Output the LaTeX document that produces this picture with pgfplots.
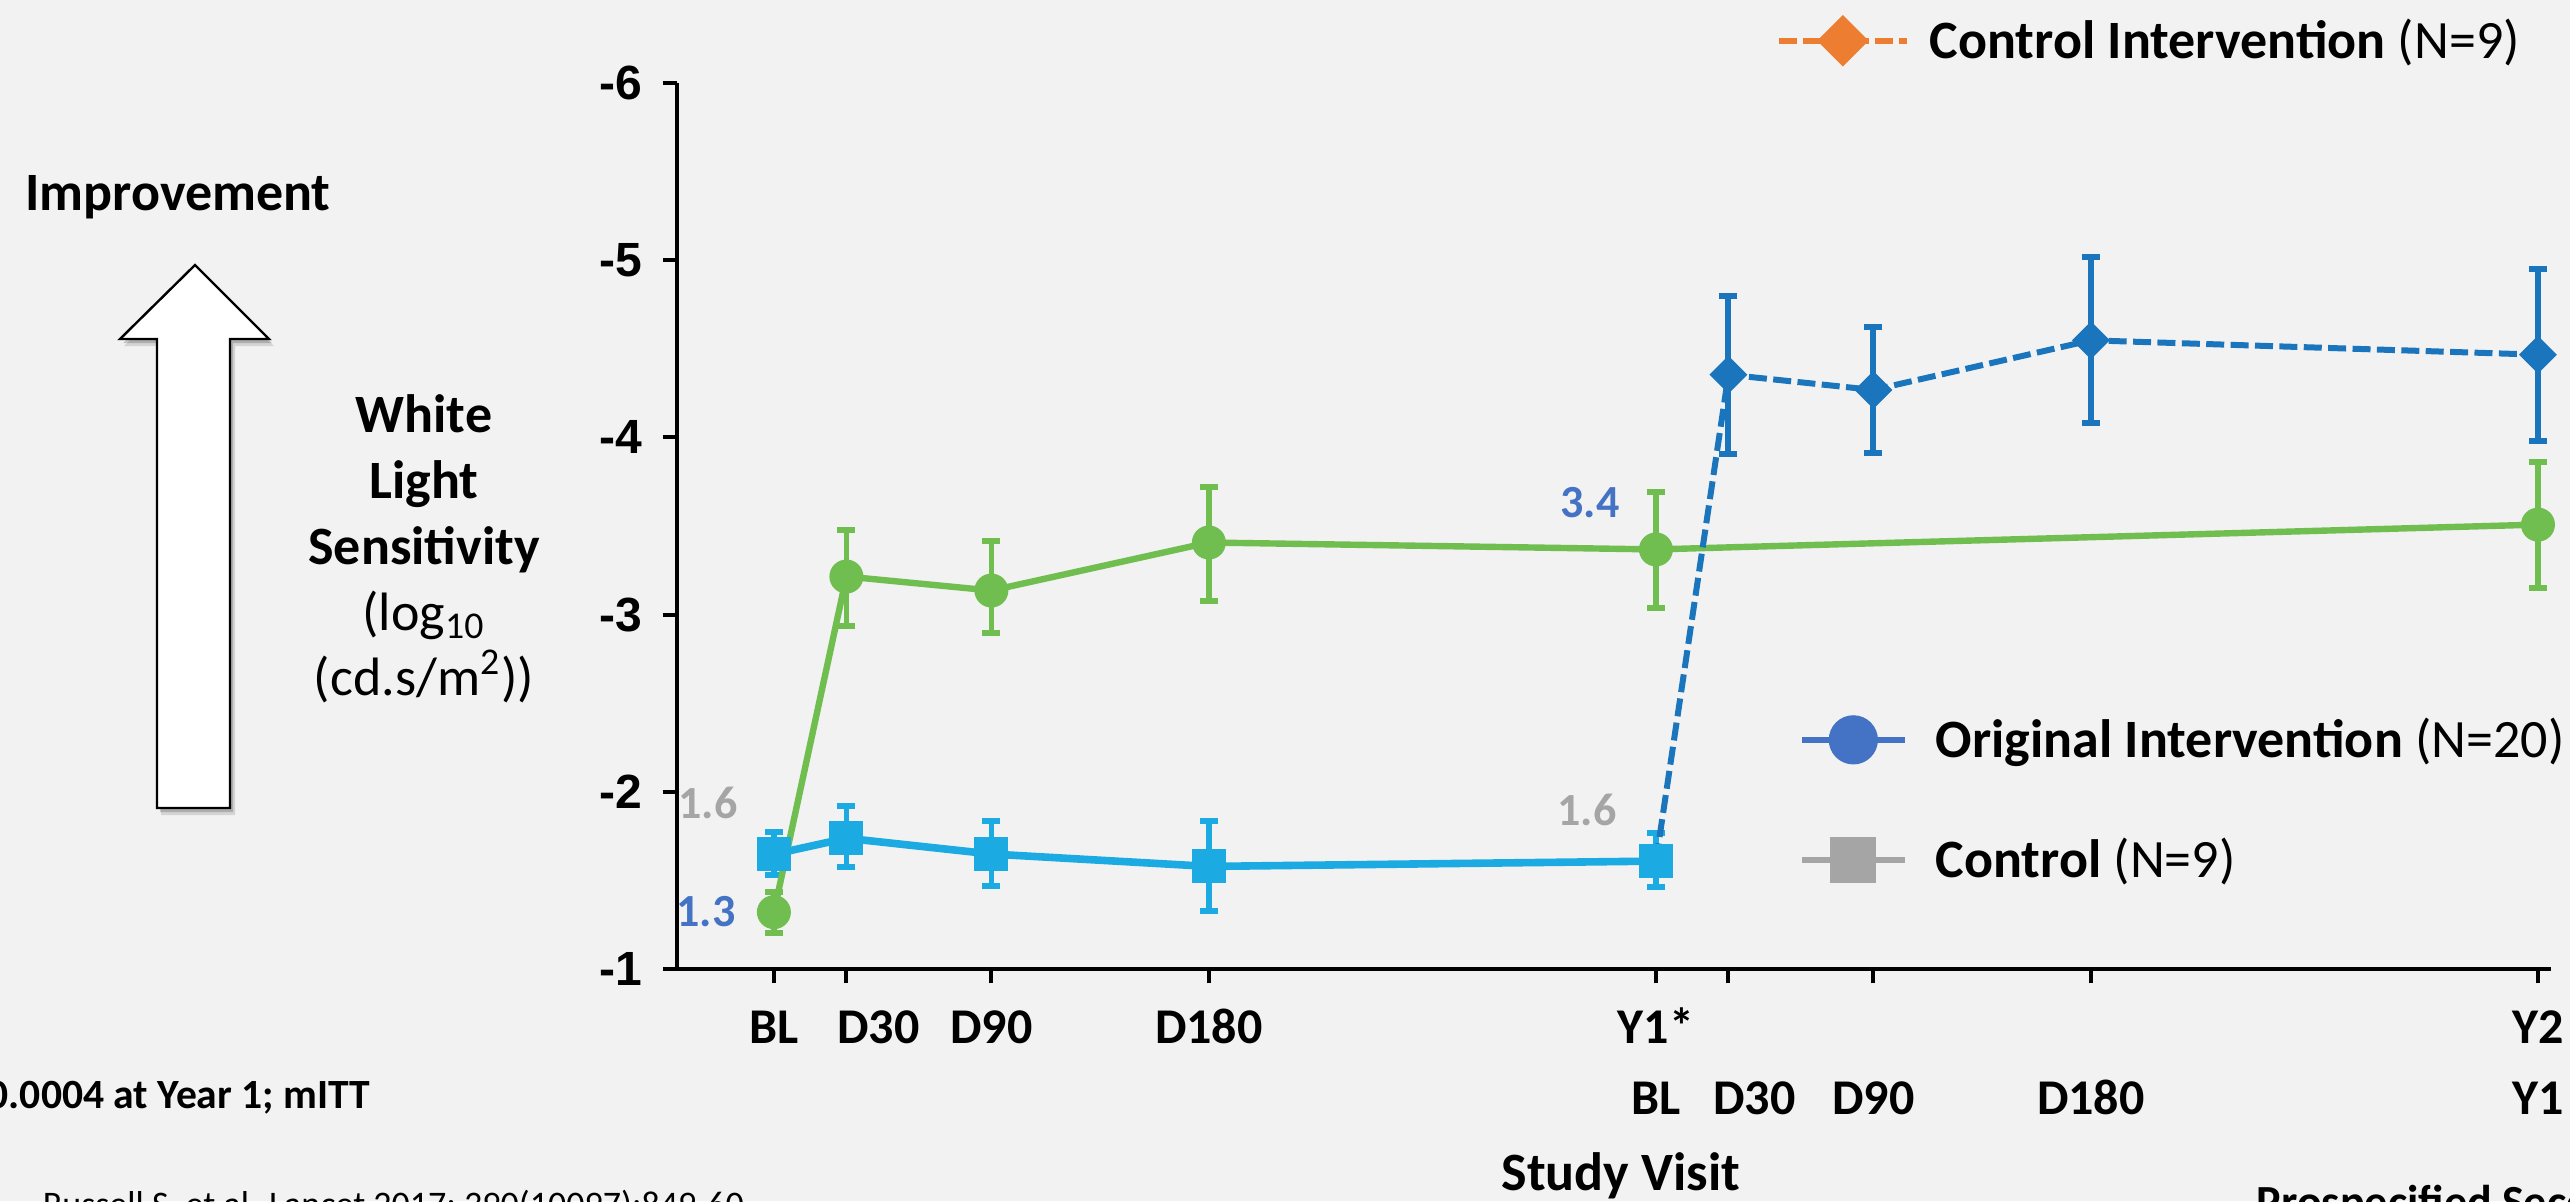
\documentclass[border=0pt]{standalone}
\usepackage{pgfplots}
\pgfplotsset{compat=1.18}
\usepackage{fontspec}
\setmainfont{Carlito}
\newfontfamily\arialfont{Liberation Sans}
\definecolor{bgc}{HTML}{F2F2F2}
\definecolor{cgreen}{RGB}{112,190,80}
\definecolor{clblue}{RGB}{27,170,225}
\definecolor{cdblue}{RGB}{27,117,188}
\definecolor{clegblue}{HTML}{4472C4}
\definecolor{cgray}{HTML}{A5A5A5}
\definecolor{corange}{HTML}{ED7D31}
\begin{document}
\begin{tikzpicture}
\path[fill=bgc, use as bounding box] (0pt,0pt) rectangle (642.5pt,-300.25pt);
\begin{scope}[x=0.25pt,y=-0.25pt, every node/.style={inner sep=0pt}]
  \fill[black, opacity=0.12] (161,815) -- (161,346) -- (124,346) -- (199,272) -- (274,346) -- (235,346) -- (235,815) -- cycle;
  \fill[black, opacity=0.18] (160,812) -- (160,343) -- (123,343) -- (198,269) -- (272,343) -- (233,343) -- (233,812) -- cycle;
  \draw[fill=white, line width=0.6pt] (157,808) -- (157,339) -- (120,339) -- (195,265) -- (269,339) -- (230,339) -- (230,808) -- cycle;
  \node[anchor=base, font=\fontsize{13.5}{16}\selectfont\bfseries] at (178,210) {Improvement};
  \node[anchor=base, font=\fontsize{13.5}{16}\selectfont\bfseries] at (424,432) {White};
  \node[anchor=base, font=\fontsize{13.5}{16}\selectfont\bfseries] at (424,498) {Light};
  \node[anchor=base, font=\fontsize{13.5}{16}\selectfont\bfseries] at (424,564) {Sensitivity};
  \node[anchor=base, font=\fontsize{13.5}{16}\selectfont] at (424,630) {(log\textsubscript{10}};
  \node[anchor=base, font=\fontsize{13.5}{16}\selectfont] at (424,695) {(cd.s/m\textsuperscript{2}))};
  \node[anchor=base, text=cgray, font=\fontsize{11.5}{14}\selectfont\bfseries] at (708,818) {1.6};
  \node[anchor=base, text=clegblue, font=\fontsize{11.5}{14}\selectfont\bfseries] at (706,926) {1.3};
  \node[anchor=base, text=cgray, font=\fontsize{11.5}{14}\selectfont\bfseries] at (1587,825) {1.6};
  \node[anchor=base, text=clegblue, font=\fontsize{11.5}{14}\selectfont\bfseries] at (1590,517) {3.4};
  \node[anchor=base east, font=\fontsize{10.4}{12}\selectfont\bfseries] at (371,1108) {*p=0.0004 at Year 1; mITT};
  \node[anchor=base west, font=\fontsize{9}{11}\selectfont] at (16,1216) {– Russell S, et al. Lancet 2017; 390(10097):849-60};
  \node[anchor=base, font=\fontsize{13.5}{16}\selectfont\bfseries] at (1621,1190) {Study Visit};
  \node[anchor=base west, font=\fontsize{11.5}{14}\selectfont\bfseries] at (2256,1217) {Prospecified Secondary Endpoint};
\end{scope}
\begin{axis}[
  at={(169.25pt,-242.25pt)}, anchor=south west,
  scale only axis, width=468.5pt, height=221.5pt,
  xmin=-40.1, xmax=735.4, ymin=-6, ymax=-1, y dir=reverse,
  axis x line*=bottom, axis y line*=left,
  axis line style={line width=1.1pt, black, -},
  tick style={black, line width=1pt},
  major tick length=3.6pt, tick align=outside,
  xtick={0,30,90,180,365,395,455,545,730},
  xticklabels={{\strut BL\\\strut},{\strut\hspace*{16pt}D30\\\strut},{\strut D90\\\strut},{\strut D180\\\strut},{\strut Y1*\\\strut BL},{\strut\\\strut\hspace*{13pt}D30},{\strut\\\strut D90},{\strut\\\strut D180},{\strut Y2\\\strut Y1}},
  xticklabel style={anchor=north, align=center, inner sep=0pt, yshift=-2.6pt, font=\fontsize{12.5}{17.6}\selectfont\bfseries},
  ytick={-6,-5,-4,-3,-2,-1},
  yticklabels={-6,-5,-4,-3,-2,-1},
  yticklabel style={anchor=east, inner sep=0pt, xshift=-5pt, font=\arialfont\bfseries\fontsize{12}{14}\selectfont},
  clip=false,
  legend style={draw=none, fill=none, inner sep=0pt, at={(axis description cs:0.5982,0.3273)}, anchor=north west,
    legend cell align=left, row sep=0pt, column sep=7pt,
    font=\fontsize{13.5}{16.2}\selectfont,
    nodes={inner sep=0pt, text height=8.7pt, text depth=0pt, minimum height=30pt}},
  legend image code/.code={\draw[mark repeat=2,mark phase=2] plot coordinates {(0pt,0pt) (12.875pt,0pt) (25.75pt,0pt)};},
]
% Control (light blue squares)
\addplot[clblue, line width=1.9pt, mark=square*, mark size=4pt, mark options={line width=0.5pt}, forget plot,
  error bars/.cd, y dir=both, y explicit, error bar style={line width=1.4pt},
  error mark options={rotate=90, line width=1.5pt, mark size=2.25pt}]
coordinates {
  (0,-1.648) += (0,0.118) -= (0,0.124)
  (30,-1.738) += (0,0.163) -= (0,0.181)
  (90,-1.649) += (0,0.179) -= (0,0.185)
  (180,-1.579) += (0,0.254) -= (0,0.254)
  (365,-1.609) += (0,0.147) -= (0,0.158)
};
% Original intervention (green circles)
\addplot[cgreen, line width=1.6pt, mark=*, mark size=4pt, mark options={line width=0.5pt}, forget plot,
  error bars/.cd, y dir=both, y explicit, error bar style={line width=1.35pt},
  error mark options={rotate=90, line width=1.5pt, mark size=2.25pt}]
coordinates {
  (0,-1.321) += (0,0.118) -= (0,0.113)
  (30,-3.215) += (0,0.281) -= (0,0.265)
  (90,-3.136) += (0,0.242) -= (0,0.282)
  (180,-3.407) += (0,0.332) -= (0,0.316)
  (365,-3.368) += (0,0.333) -= (0,0.326)
  (730,-3.508) += (0,0.355) -= (0,0.356)
};
% Control intervention (dark blue dashed)
\addplot[cdblue, line width=1.5pt, dash pattern=on 4.5pt off 1.6pt, forget plot] coordinates {
  (365,-1.609) (395,-4.354) (455,-4.268) (545,-4.548) (730,-4.467)
};
\addplot[cdblue, only marks, mark=square*, mark size=3.1pt, mark options={rotate=45, solid, line width=0.5pt}, forget plot,
  error bars/.cd, y dir=both, y explicit, error bar style={line width=1.5pt, solid},
  error mark options={rotate=90, line width=1.5pt, mark size=2.25pt, solid}]
coordinates {
  (395,-4.354) += (0,0.446) -= (0,0.446)
  (455,-4.268) += (0,0.356) -= (0,0.356)
  (545,-4.548) += (0,0.468) -= (0,0.468)
  (730,-4.467) += (0,0.485) -= (0,0.485)
};
\addlegendimage{clegblue, line width=1.4pt, mark=*, mark size=6pt, mark options={line width=0.3pt}}
\addlegendentry{\textbf{Original Intervention} (N=20)}
\addlegendimage{cgray, line width=1.5pt, mark=square*, mark size=5.6pt, mark options={line width=0.3pt}}
\addlegendentry{\textbf{Control} (N=9)}
\end{axis}
\begin{axis}[
  at={(169.25pt,-242.25pt)}, anchor=south west,
  scale only axis, width=468.5pt, height=221.5pt,
  xmin=-40.1, xmax=735.4, ymin=-6, ymax=-1, y dir=reverse,
  hide axis, clip=false,
  legend style={draw=none, fill=none, inner sep=0pt, at={(axis description cs:0.5859,1.1163)}, anchor=north west,
    legend cell align=left, row sep=0pt, column sep=5pt,
    font=\fontsize{13.5}{16.2}\selectfont,
    nodes={inner sep=0pt, text height=8.7pt, text depth=0pt, minimum height=30pt}},
  legend image code/.code={\draw[mark repeat=2,mark phase=2] plot coordinates {(0pt,0pt) (16pt,0pt) (32pt,0pt)};},
]
\addlegendimage{corange, line width=1.5pt, dash pattern=on 4.5pt off 1.5pt, mark=square*, mark size=4.4pt, mark options={rotate=45, solid, line width=0.3pt}}
\addlegendentry{\textbf{Control Intervention} (N=9)}
\end{axis}
\end{tikzpicture}
\end{document}
